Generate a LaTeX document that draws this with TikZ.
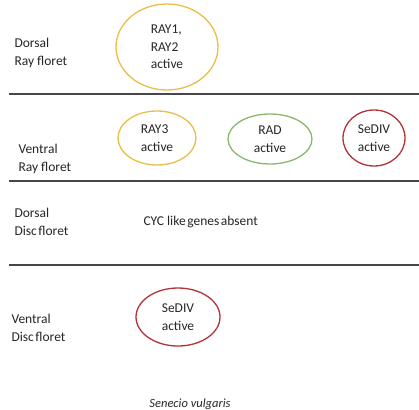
\documentclass[tikz,border=0pt]{standalone}
\usepackage{fontspec}
\setmainfont{Carlito}
\usepackage{tikz}
\usetikzlibrary{shapes.geometric}

\definecolor{rayyellow}{RGB}{232,190,70}
\definecolor{radgreen}{RGB}{140,182,110}
\definecolor{divred}{RGB}{180,50,55}
\definecolor{rulegray}{RGB}{70,70,75}

\begin{document}
\begin{tikzpicture}[x=1pt,y=-1pt,
      every node/.style={font=\fontsize{13.5}{17.5}\selectfont,text=black!85},
      gene node/.style={ellipse,draw,line width=1.3pt,inner sep=0pt,align=left},
      side node/.style={anchor=west,align=left},
      divider/.style={draw=rulegray,line width=1.4pt}]

      \useasboundingbox (0,0) rectangle (419,409);

      % row dividers
      \coordinate (l1) at (9,94);   \coordinate (r1) at (419,94);
      \coordinate (l2) at (9,181);  \coordinate (r2) at (419,181);
      \coordinate (l3) at (9,265);  \coordinate (r3) at (419,265);
      \path[divider] (l1) -- (r1) (l2) -- (r2) (l3) -- (r3);

      % row names
      \node[side node] (dray)  at (11,53)  {Dorsal\\Ray floret};
      \node[side node] (vray)  at (15,159) {Ventral\\Ray floret};
      \node[side node] (ddisc) at (11,222) {Dorsal\\Disc\hspace{-1.5pt} floret};
      \node[side node] (vdisc) at (8,328)  {Ventral\\Disc\hspace{-1.5pt} floret};

      % genes
      \node[gene node,draw=rayyellow,minimum width=102pt,minimum height=86pt]
        (ray12) at (167,47) {RAY1,\\RAY2\\active};
      \node[gene node,draw=rayyellow,minimum width=78pt,minimum height=54pt]
        (ray3) at (157,138) {RAY3\\active};
      \node[gene node,draw=radgreen,minimum width=84pt,minimum height=50pt,align=center]
        (rad) at (270,139) {RAD\\active};
      \node[gene node,draw=divred,minimum width=62pt,minimum height=56pt]
        (sediv1) at (374,138) {SeDIV\\active};
      \node[gene node,draw=divred,minimum width=84pt,minimum height=58pt]
        (sediv2) at (178,317) {SeDIV\\active};

      \node[anchor=west] (cyc) at (140,222) {CYC like\hspace{-1.5pt} genes\hspace{-1.5pt} absent};
      \node[font=\fontsize{12.5}{14}\selectfont\itshape] (species) at (190,404) {Senecio vulgaris};
    \end{tikzpicture}
\end{document}
